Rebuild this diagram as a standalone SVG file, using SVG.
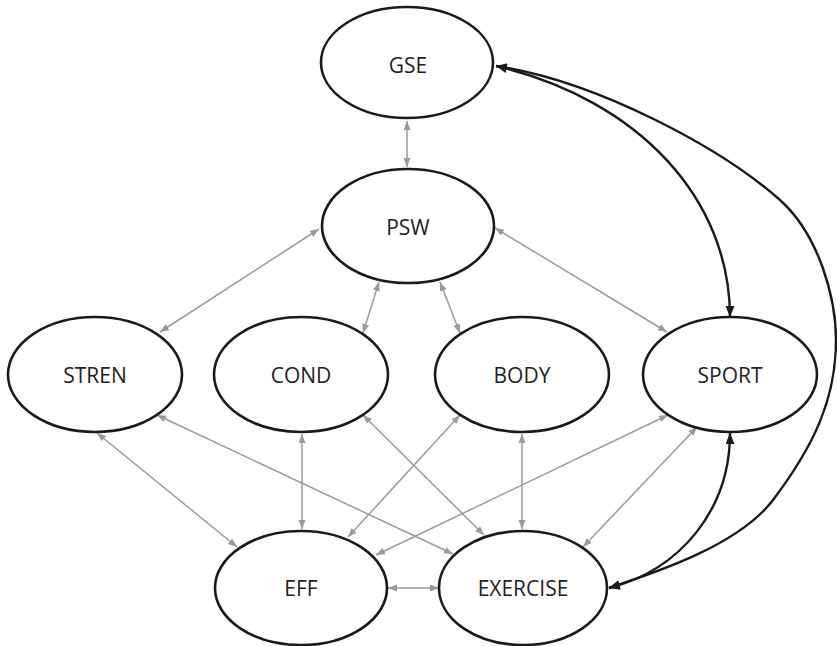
<svg xmlns="http://www.w3.org/2000/svg" width="837" height="646" viewBox="0 0 837 646">
<style>
.node ellipse{fill:#fff;stroke:#1a1a1a;stroke-width:2.6}
.node text{font-family:"Open Sans","Liberation Sans",sans-serif;font-size:21px;fill:#222;text-anchor:middle}
.g{stroke:#9a9a9a;stroke-width:1.5;fill:none;marker-start:url(#ga);marker-end:url(#ga)}
.b{stroke:#1a1a1a;stroke-width:2.4;fill:none;marker-start:url(#ba);marker-end:url(#ba)}
</style>
<defs>
<marker id="ga" markerUnits="userSpaceOnUse" markerWidth="10" markerHeight="8" refX="9" refY="3.5" orient="auto-start-reverse"><path d="M0,0 L9,3.5 L0,7 z" fill="#9a9a9a"/></marker>
<marker id="ba" markerUnits="userSpaceOnUse" markerWidth="12" markerHeight="10" refX="11" refY="4.5" orient="auto-start-reverse"><path d="M0,0 L11,4.5 L0,9 z" fill="#1a1a1a"/></marker>
</defs>
<rect width="837" height="646" fill="#fff"/>
<g id="connectors">
<line class="g" x1="407" y1="121" x2="407" y2="167"/>
<line class="g" x1="319" y1="229" x2="160" y2="332"/>
<line class="g" x1="379" y1="282" x2="363" y2="333"/>
<line class="g" x1="440" y1="282" x2="460" y2="333"/>
<line class="g" x1="495" y1="228" x2="667" y2="332"/>
<line class="g" x1="97" y1="433" x2="237" y2="547"/>
<line class="g" x1="157" y1="415" x2="453" y2="554"/>
<line class="g" x1="302" y1="434" x2="302" y2="529"/>
<line class="g" x1="363" y1="415" x2="484" y2="535"/>
<line class="g" x1="460" y1="415" x2="348" y2="537"/>
<line class="g" x1="522" y1="434" x2="522" y2="529"/>
<line class="g" x1="668" y1="415" x2="376" y2="555"/>
<line class="g" x1="697" y1="427" x2="583" y2="547"/>
<line class="g" x1="388" y1="588" x2="439" y2="588"/>
<path class="b" d="M496,66 C640,100 730,200 730,317"/>
<path class="b" d="M496,66 C596,81 720,147 780,200 C820,236 836,300 836,340 C836,400 813,447 773,500 C738,546 654,573 609,588"/>
<path class="b" d="M730,433 C730,510 680,570 609,588"/>
</g>
<g id="GSE" class="node"><ellipse cx="407" cy="62.5" rx="86" ry="55.5"/><text x="408" y="73">GSE</text></g>
<g id="PSW" class="node"><ellipse cx="408" cy="226" rx="86" ry="57"/><text x="408" y="235">PSW</text></g>
<g id="STREN" class="node"><ellipse cx="95" cy="374.5" rx="87" ry="57.5"/><text x="95" y="383">STREN</text></g>
<g id="COND" class="node"><ellipse cx="301" cy="374.5" rx="87" ry="57.5"/><text x="301" y="383">COND</text></g>
<g id="BODY" class="node"><ellipse cx="522" cy="374.5" rx="87" ry="57.5"/><text x="522" y="383">BODY</text></g>
<g id="SPORT" class="node"><ellipse cx="730" cy="374.5" rx="87" ry="57.5"/><text x="730" y="383">SPORT</text></g>
<g id="EFF" class="node"><ellipse cx="301" cy="588" rx="86" ry="57"/><text x="301" y="596">EFF</text></g>
<g id="EXERCISE" class="node"><ellipse cx="523" cy="588" rx="84" ry="57"/><text x="523" y="596">EXERCISE</text></g>
</svg>
